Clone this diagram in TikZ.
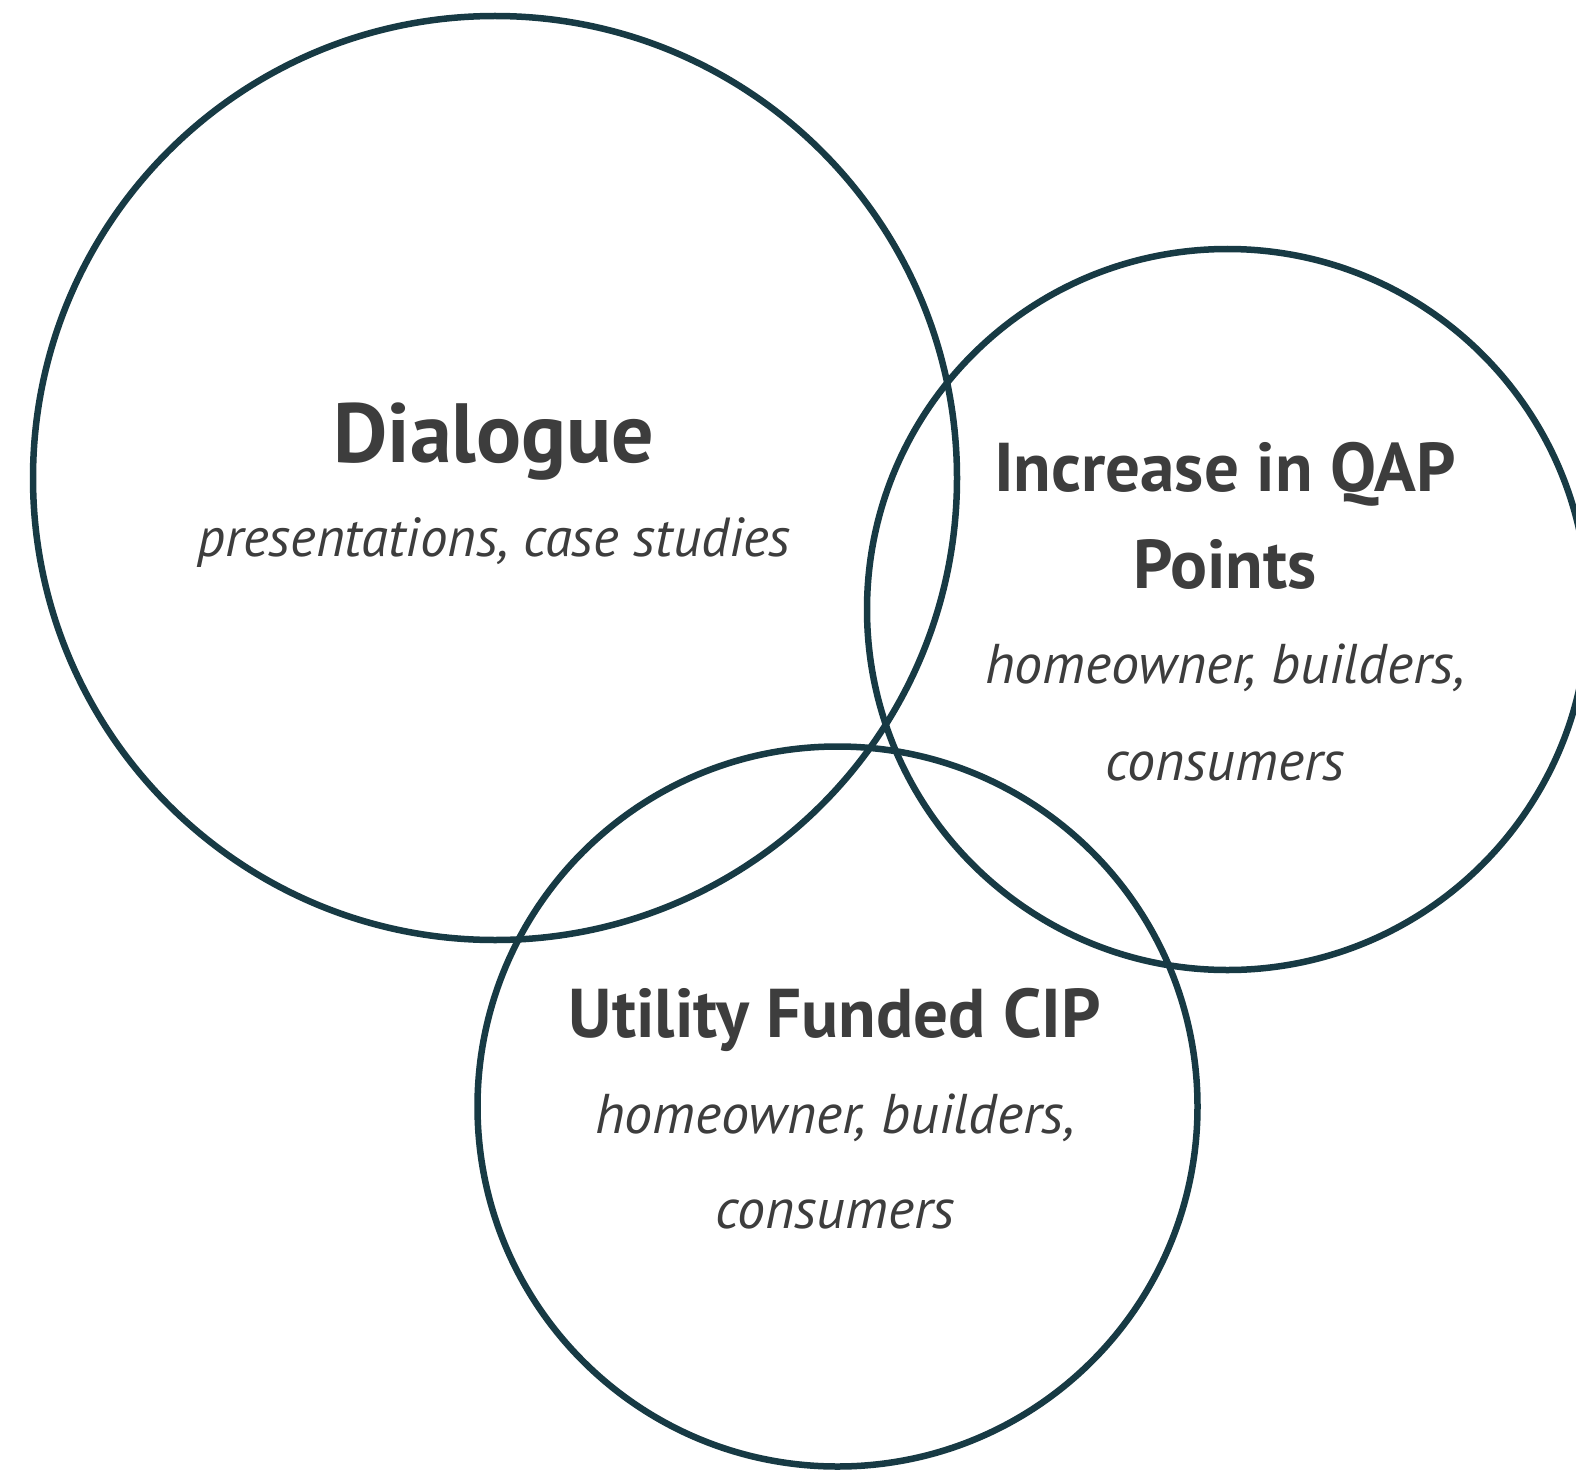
\documentclass[tikz,border=0pt]{standalone}
\usepackage{fontspec}
\setmainfont{PT Sans}
\definecolor{ring}{HTML}{173A44}
\definecolor{txt}{HTML}{3D3D3D}
\tikzset{
  ring/.style={draw=ring, line width=6.5pt},
  head/.style={text=txt, anchor=base, inner sep=0pt, font=\fontsize{#1}{#1}\selectfont\bfseries},
  sub/.style={text=txt, anchor=base, inner sep=0pt, font=\fontsize{#1}{#1}\selectfont\itshape},
}
\begin{document}
\begin{tikzpicture}[x=1pt,y=-1pt]
\useasboundingbox (0,0) rectangle (1576,1471);
\fill[white] (0,0) rectangle (1576,1471);
\draw[ring] (495,478) circle (462);
\draw[ring] (1227.5,609.5) circle (360.5);
\draw[ring] (837.5,1106.5) circle (360);
\node[head=84] (t1) at (494,462) {Dialogue};
\node[sub=55] (s1) at (494,556) {presentations, case studies};
\node[head=69] (t2a) at (1225,491) {Increase in QAP};
\node[head=69] (t2b) at (1225,588) {Points};
\node[sub=56] (s2a) at (1225,683) {homeowner, builders,};
\node[sub=56] (s2b) at (1225,780) {consumers};
\node[head=69] (t3) at (835,1037) {Utility Funded CIP};
\node[sub=56] (s3a) at (835,1133) {homeowner, builders,};
\node[sub=56] (s3b) at (835,1228) {consumers};
\end{tikzpicture}
\end{document}
